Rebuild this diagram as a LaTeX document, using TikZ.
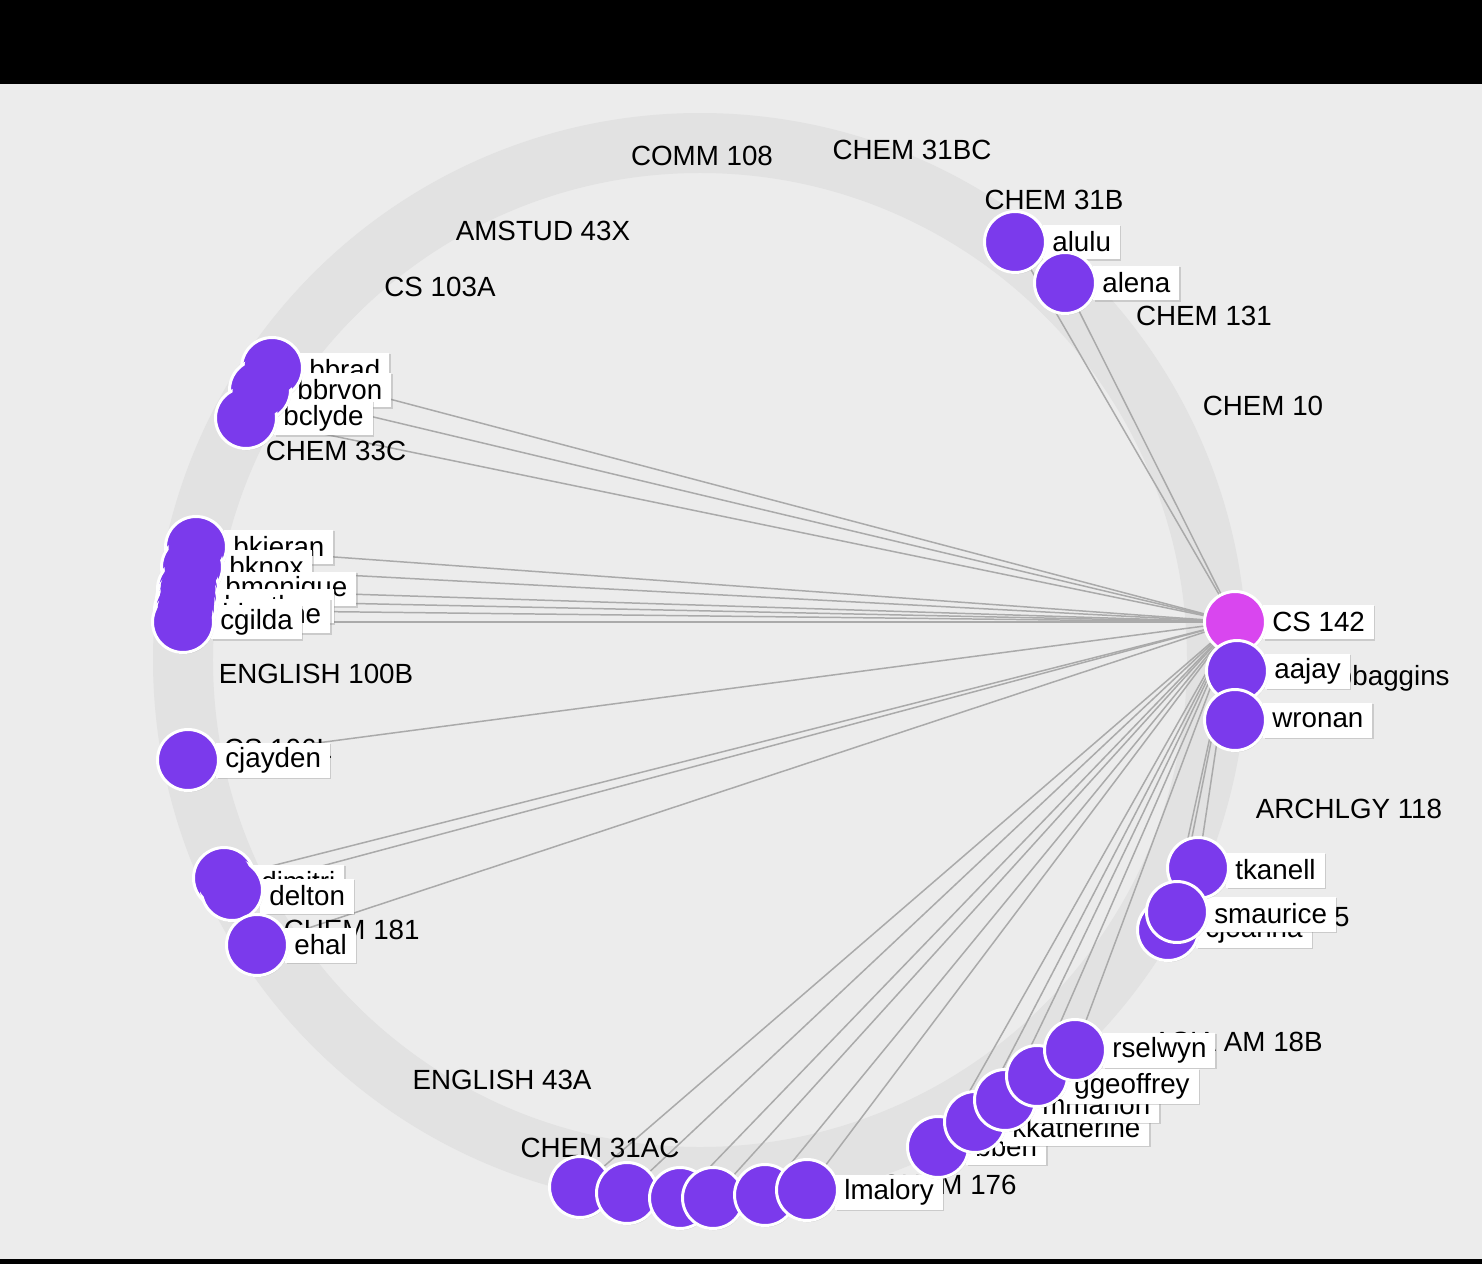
\documentclass[tikz,border=0pt]{standalone}
\usepackage{fontspec}
\setmainfont{Liberation Sans}
\usetikzlibrary{shadows,calc}

\definecolor{bgGray}{HTML}{ECECEC}
\definecolor{ringGray}{HTML}{E2E2E2}
\definecolor{linkGray}{HTML}{AAAAAA}
\definecolor{studentViolet}{HTML}{7B3AEC}
\definecolor{coursePink}{HTML}{D946EF}

\pgfdeclarelayer{background}
\pgfdeclarelayer{edges}
\pgfsetlayers{background,edges,main}

% name/x/y/label y
\newcommand\studentlist{alulu/1015/242/242, alena/1065/283/283,
  bbrad/272/368/370, bbrvon/260/390/390, bclyde/246/418/418,
  bkieran/196/547/547, bknox/192/567/567, bmonique/188/589/589, bnathan/187/600/606, bjoanne/185/610/616, cgilda/183/622/622,
  cjayden/188/760/760,
  dimitri/224/878/882, delton/232/890/896, ehal/257/945/945,
  aajay/1237/671/671, wronan/1235/720/720,
  cjoanna/1168/930/930, tkanell/1198/868/870, smaurice/1177/912/914,
  bben/938/1147/1147, kkatherine/975/1122/1128, mmarion/1005/1100/1105, ggeoffrey/1037/1076/1086, rselwyn/1075/1050/1050,
  lmalory/807/1190/1192}

\begin{document}
\begin{tikzpicture}[x=0.02cm, y=-0.02cm,
    dot/.style={circle, fill=studentViolet, draw=white, line width=1.7pt, minimum size=1.22cm, inner sep=0pt,
      drop shadow={shadow xshift=0.5pt, shadow yshift=-0.9pt, opacity=0.3}},
    tag/.style={fill=white, anchor=west, minimum height=0.7cm, inner xsep=0.18cm, inner ysep=0pt,
      font=\fontsize{15.8}{18}\selectfont, drop shadow={shadow xshift=0.8pt, shadow yshift=-0.9pt, opacity=0.3}},
    coursename/.style={font=\fontsize{15.8}{18}\selectfont, inner sep=0pt},
    link/.style={draw=linkGray, line width=0.85pt},
]

% Frame
\begin{pgfonlayer}{background}
\fill[bgGray] (0,0) rectangle (1482,1264);
\fill[black] (0,0) rectangle (1482,84);
\fill[black] (0,1259) rectangle (1482,1264);
\draw[ringGray, line width=1.2cm] (700,660) circle (517);
\end{pgfonlayer}
\useasboundingbox (0,0) rectangle (1482,1264);

% Course names on the ring
\node[coursename] (comm108) at (702,156) {COMM 108};
\node[coursename] (chem31bc) at (912,150) {CHEM 31BC};
\node[coursename] (chem31b) at (1054,200) {CHEM 31B};
\node[coursename] (amstud) at (543,231) {AMSTUD 43X};
\node[coursename] (cs103a) at (440,287) {CS 103A};
\node[coursename] (chem131) at (1204,316) {CHEM 131};
\node[coursename] (chem10) at (1263,406) {CHEM 10};
\node[coursename] (chem33c) at (336,451) {CHEM 33C};
\node[coursename] (eng100b) at (316,674) {ENGLISH 100B};
\node[coursename] (cs106l) at (278,749) {CS 106L};
\node[coursename] (archlgy) at (1349,809) {ARCHLGY 118};
\node[coursename, anchor=east] (chem125) at (1350,917) {CHEM 125};
\node[coursename, anchor=east] (chem181) at (420,930) {CHEM 181};
\node[coursename, anchor=east] (asiaam) at (1323,1042) {ASIA AM 18B};
\node[coursename] (eng43a) at (502,1080) {ENGLISH 43A};
\node[coursename] (chem31ac) at (600,1148) {CHEM 31AC};
\node[coursename, anchor=east] (chem176) at (1017,1185) {CHEM 176};
\node[coursename, anchor=east] (bbaggins) at (1450,678) {bbaggins};

% Name tags
\node[tag] (l-cs142) at (1263,622) {CS 142};
\foreach \n/\x/\y/\ly in \studentlist
  \node[tag] (l-\n) at ({\x+28},\ly) {\n};

% Students
\node[dot, fill=coursePink] (cs142) at (1235,622) {};
\node[dot] (b1) at (580,1187) {};
\node[dot] (b2) at (627,1193) {};
\node[dot] (b3) at (680,1198) {};
\node[dot] (b4) at (713,1198) {};
\node[dot] (b5) at (765,1195) {};
\foreach \n/\x/\y/\ly in \studentlist
  \node[dot] (\n) at (\x,\y) {};

% merged blobs
\foreach \n in {bbrad, bbrvon, bclyde, bkieran, bknox, bmonique, bnathan, bjoanne, cgilda, dimitri, delton}
  \fill[studentViolet] (\n.center) circle (27.5);

% Links to CS 142
\begin{pgfonlayer}{edges}
\foreach \n in {alulu, alena, bbrad, bbrvon, bclyde, bkieran, bknox, bmonique, bnathan, bjoanne, cgilda, cjayden,
  dimitri, delton, ehal, b1, b2, b3, b4, b5, lmalory, bben, kkatherine, mmarion, ggeoffrey, rselwyn,
  tkanell, smaurice, cjoanna, aajay, wronan}
  \draw[link] (\n.center) -- (cs142.center);
\end{pgfonlayer}

\end{tikzpicture}
\end{document}
